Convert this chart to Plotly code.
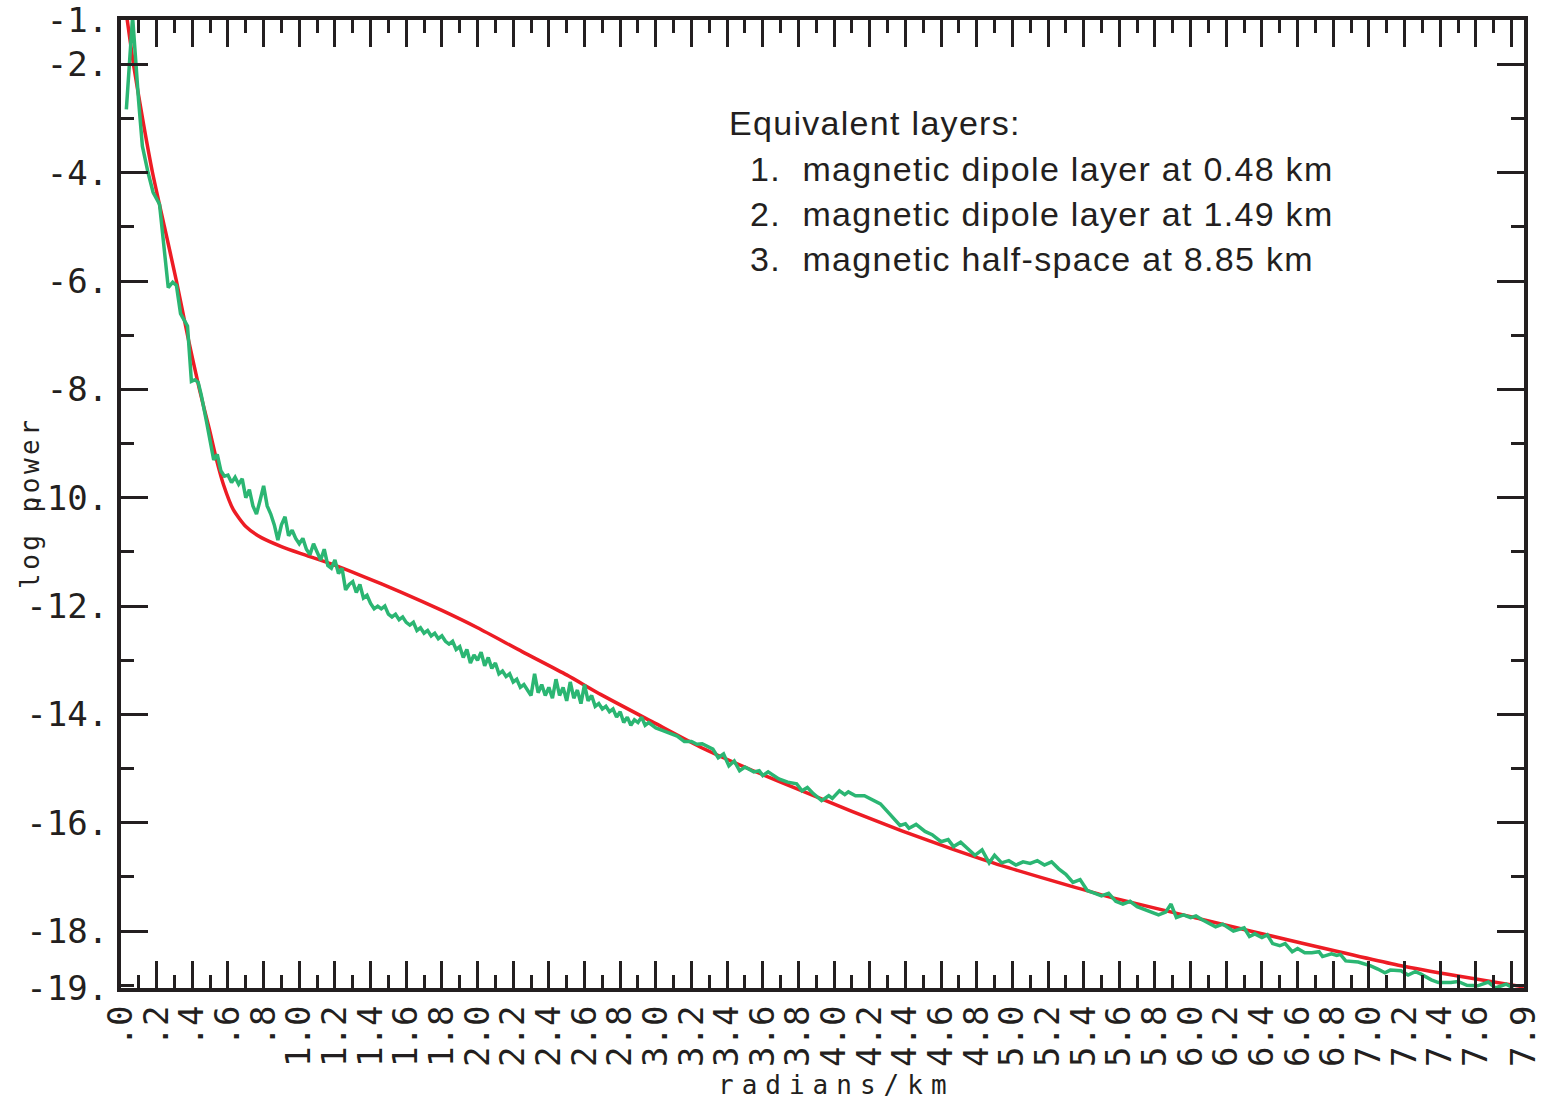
import plotly.graph_objects as go

# ---------------- data ----------------
x_model = [0.0, 0.035, 0.07, 0.121, 0.177, 0.244, 0.311, 0.373, 0.44, 0.496, 0.536, 0.575,
           0.63, 0.70, 0.79, 0.90, 1.01, 1.18, 1.35, 1.57, 1.80, 2.0, 2.25, 2.5, 2.69, 3.0,
           3.26, 3.54, 3.82, 4.1, 4.38, 4.66, 4.94, 5.5, 6.06, 6.62, 7.18, 7.5, 7.87]
y_model = [-0.45, -1.18, -2.0, -3.0, -4.0, -5.0, -6.0, -7.0, -8.0, -8.74, -9.3, -9.76,
           -10.22, -10.53, -10.74, -10.9, -11.03, -11.22, -11.44, -11.74, -12.08, -12.4, -12.84, -13.27, -13.63, -14.17,
           -14.62, -15.03, -15.41, -15.79, -16.15, -16.48, -16.79, -17.33, -17.78, -18.22, -18.64, -18.83, -19.03]

x_obs = [0.03, 0.065, 0.098, 0.12, 0.152, 0.18, 0.216, 0.237, 0.265, 0.29, 0.311, 0.334, 0.373, 0.395, 0.415, 0.433, 0.45,
         0.48, 0.50, 0.52, 0.54, 0.56, 0.58, 0.60, 0.62, 0.64, 0.66, 0.68, 0.70, 0.72, 0.74, 0.76, 0.78, 0.80,
         0.82, 0.84, 0.86, 0.88, 0.90, 0.92, 0.94, 0.96, 0.98, 1.00,
         1.02, 1.04, 1.06, 1.08, 1.10, 1.12, 1.14, 1.16, 1.18, 1.20, 1.22, 1.24, 1.26, 1.28, 1.30, 1.32, 1.34,
         1.36, 1.38, 1.40, 1.42, 1.44, 1.46, 1.48, 1.50, 1.52, 1.54, 1.56, 1.58, 1.60, 1.62, 1.64, 1.66, 1.68,
         1.70, 1.72, 1.74, 1.76, 1.78, 1.80, 1.82, 1.84, 1.86, 1.88, 1.90, 1.92, 1.94, 1.96, 1.98, 2.00,
         2.02, 2.04, 2.06, 2.08, 2.10, 2.12, 2.14, 2.16, 2.18, 2.20, 2.22, 2.24, 2.26, 2.28, 2.30, 2.32, 2.34,
         2.36, 2.38, 2.40, 2.42, 2.44, 2.46, 2.48, 2.50, 2.52, 2.54, 2.56, 2.58, 2.60, 2.62, 2.64, 2.66, 2.68,
         2.70, 2.72, 2.74, 2.76, 2.78, 2.80, 2.82, 2.84, 2.86, 2.88, 2.90, 2.92, 2.94, 2.96, 2.98, 3.00,
         3.04, 3.08, 3.12, 3.16, 3.20, 3.23,
         3.26, 3.32, 3.35, 3.38, 3.41, 3.44, 3.47, 3.50, 3.55, 3.58, 3.60, 3.63, 3.69, 3.74, 3.79, 3.82, 3.85,
         3.88, 3.93, 3.97, 3.99, 4.03, 4.06, 4.08, 4.12, 4.17, 4.22, 4.26, 4.31, 4.37, 4.40, 4.42, 4.46, 4.51,
         4.55, 4.60, 4.64, 4.67, 4.71, 4.75, 4.79, 4.83, 4.87, 4.90, 4.94,
         4.98, 5.02, 5.06, 5.10, 5.14, 5.18, 5.22, 5.26, 5.30, 5.34, 5.38, 5.42, 5.46, 5.50, 5.54, 5.58, 5.62,
         5.66, 5.70, 5.74, 5.78, 5.82, 5.86, 5.89, 5.92, 5.96, 6.00, 6.03, 6.06,
         6.14, 6.18, 6.24, 6.30, 6.33, 6.36, 6.40, 6.43, 6.46, 6.50, 6.53, 6.57, 6.60, 6.64, 6.68, 6.72, 6.74,
         6.79, 6.82, 6.84, 6.87, 6.94, 7.01, 7.05, 7.09, 7.12, 7.18, 7.22, 7.26, 7.29, 7.32, 7.35, 7.39, 7.46,
         7.50, 7.55, 7.61, 7.67, 7.71, 7.77, 7.81, 7.84, 7.87]
y_obs = [-2.83, -1.12, -2.64, -3.51, -4.0, -4.36, -4.58, -5.23, -6.12, -6.02, -6.08, -6.6, -6.83, -7.85, -7.82, -7.87, -8.1,
         -8.6, -8.95, -9.3, -9.2, -9.5, -9.6, -9.58, -9.72, -9.62, -9.75, -9.65, -10.0, -9.85, -10.15, -10.3, -10.05, -9.78,
         -10.15, -10.3, -10.5, -10.78, -10.5, -10.35, -10.7, -10.6, -10.75, -10.85,
         -10.75, -10.95, -11.05, -10.85, -11.0, -11.15, -10.95, -11.25, -11.3, -11.15, -11.4, -11.3, -11.7, -11.6, -11.55, -11.75, -11.6,
         -11.85, -11.8, -11.95, -12.05, -12.0, -12.05, -12.0, -12.15, -12.2, -12.15, -12.25, -12.2, -12.3, -12.35, -12.3, -12.45, -12.4,
         -12.5, -12.45, -12.55, -12.5, -12.6, -12.55, -12.65, -12.7, -12.65, -12.8, -12.75, -12.95, -12.8, -13.05, -12.9, -13.0,
         -12.85, -13.1, -12.95, -13.15, -13.05, -13.25, -13.2, -13.3, -13.25, -13.4, -13.35, -13.5, -13.45, -13.55, -13.65, -13.25, -13.6,
         -13.45, -13.65, -13.5, -13.7, -13.35, -13.65, -13.5, -13.75, -13.4, -13.7, -13.55, -13.8, -13.45, -13.75, -13.65, -13.85, -13.8,
         -13.9, -13.85, -13.95, -13.9, -14.05, -13.95, -14.15, -14.05, -14.2, -14.1, -14.15, -14.05, -14.2, -14.15, -14.2, -14.25,
         -14.3, -14.35, -14.4, -14.5, -14.5, -14.55,
         -14.54, -14.64, -14.8, -14.73, -14.95, -14.86, -15.04, -14.97, -15.06, -15.04, -15.13, -15.06, -15.19, -15.25, -15.28, -15.41, -15.35,
         -15.45, -15.59, -15.5, -15.55, -15.41, -15.48, -15.43, -15.5, -15.5, -15.58, -15.65, -15.83, -16.05, -16.02, -16.1, -16.03, -16.16,
         -16.22, -16.35, -16.31, -16.44, -16.36, -16.47, -16.6, -16.5, -16.74, -16.6, -16.74,
         -16.7, -16.78, -16.72, -16.75, -16.7, -16.78, -16.72, -16.85, -16.95, -17.1, -17.05, -17.25, -17.3, -17.35, -17.3, -17.45, -17.5,
         -17.45, -17.55, -17.6, -17.65, -17.7, -17.65, -17.5, -17.75, -17.7, -17.75, -17.72, -17.78,
         -17.92, -17.87, -18.0, -17.94, -18.1, -18.05, -18.12, -18.07, -18.23, -18.27, -18.23, -18.38, -18.32, -18.4, -18.4, -18.38, -18.47,
         -18.42, -18.45, -18.43, -18.55, -18.57, -18.64, -18.7, -18.77, -18.72, -18.73, -18.81, -18.75, -18.79, -18.85, -18.9, -18.95, -18.95,
         -18.93, -19.0, -19.01, -18.94, -19.05, -18.98, -19.05]

x_range = [0.0, 7.87]
y_range = [-19.05, -1.18]

x_tick_vals = [0.0, 0.2, 0.4, 0.6, 0.8, 1.0, 1.2, 1.4, 1.6, 1.8, 2.0, 2.2, 2.4, 2.6, 2.8, 3.0, 3.2, 3.4,
               3.6, 3.8, 4.0, 4.2, 4.4, 4.6, 4.8, 5.0, 5.2, 5.4, 5.6, 5.8, 6.0, 6.2, 6.4, 6.6, 6.8, 7.0,
               7.2, 7.4, 7.6, 7.8, 7.87]
x_tick_text = [".0", ".2", ".4", ".6", ".8", "1.0", "1.2", "1.4", "1.6", "1.8", "2.0", "2.2", "2.4", "2.6",
               "2.8", "3.0", "3.2", "3.4", "3.6", "3.8", "4.0", "4.2", "4.4", "4.6", "4.8", "5.0", "5.2",
               "5.4", "5.6", "5.8", "6.0", "6.2", "6.4", "6.6", "6.8", "7.0", "7.2", "7.4", "7.6", "", "7.9"]
x_minor_vals = [0.1, 0.3, 0.5, 0.7, 0.9, 1.1, 1.3, 1.5, 1.7, 1.9, 2.1, 2.3, 2.5, 2.7, 2.9, 3.1, 3.3, 3.5,
                3.7, 3.9, 4.1, 4.3, 4.5, 4.7, 4.9, 5.1, 5.3, 5.5, 5.7, 5.9, 6.1, 6.3, 6.5, 6.7, 6.9, 7.1,
                7.3, 7.5, 7.7]
y_tick_vals = [-19.05, -18, -16, -14, -12, -10, -8, -6, -4, -2, -1.18]
y_tick_text = ["-19.", "-18.", "-16.", "-14.", "-12.", "-10.", "-8.", "-6.", "-4.", "-2.", "-1."]
y_minor_vals = [-19, -17, -15, -13, -11, -9, -7, -5, -3]

legend_title = "Equivalent layers:"
legend_lines = ["1.\u00a0 magnetic dipole layer at 0.48 km",
                "2.\u00a0 magnetic dipole layer at 1.49 km",
                "3.\u00a0 magnetic half-space at 8.85 km"]

# ---------------- styling ----------------
INK = "#231f20"
RED = "#ed1c24"
GREEN = "#2bb673"
TICKFONT = dict(family="DejaVu Sans Mono", size=34, color=INK)

fig = go.Figure()
fig.add_trace(go.Scatter(x=x_model, y=y_model, mode="lines",
                         line=dict(color=RED, width=3.5, shape="spline", smoothing=0.6),
                         showlegend=False))
fig.add_trace(go.Scatter(x=x_obs, y=y_obs, mode="lines",
                         line=dict(color=GREEN, width=3.5), showlegend=False))

axis_common = dict(showline=True, linewidth=4, linecolor=INK, mirror="ticks",
                   ticks="inside", ticklen=27, tickwidth=3, tickcolor=INK,
                   showgrid=False, zeroline=False, tickfont=TICKFONT,
                   ticklabeloverflow="allow")

fig.update_xaxes(range=x_range, tickmode="array", tickvals=x_tick_vals, ticktext=x_tick_text,
                 tickangle=-90, ticklabelstandoff=0,
                 minor=dict(tickmode="array", tickvals=x_minor_vals, ticks="inside",
                            ticklen=13, tickwidth=3, tickcolor=INK),
                 **axis_common)
fig.update_yaxes(range=y_range, tickmode="array", tickvals=y_tick_vals, ticktext=y_tick_text,
                 ticklabelstandoff=2,
                 minor=dict(tickmode="array", tickvals=y_minor_vals, ticks="inside",
                            ticklen=13, tickwidth=3, tickcolor=INK),
                 **axis_common)

L, R, T, B = 121, 19, 20, 115
W, H = 1543, 1103
PW, PH = W - L - R, H - T - B


def px(xp):
    return (xp - L) / PW


def py(yp):
    return (H - B - yp) / PH


LEGFONT = dict(family="Liberation Sans", size=34, color=INK)
annotations = [
    dict(text='<span style="letter-spacing:8px">radians/km</span>', x=px(836), y=py(1085),
         xref="paper", yref="paper", showarrow=False, xanchor="center", yanchor="middle",
         font=dict(family="DejaVu Sans Mono", size=26, color=INK)),
    dict(text='<span style="letter-spacing:3.5px">log power</span>', x=px(30), y=py(503),
         xref="paper", yref="paper", showarrow=False, xanchor="center", yanchor="middle",
         textangle=-90, font=dict(family="DejaVu Sans Mono", size=26, color=INK)),
    dict(text='<span style="letter-spacing:1.3px">' + legend_title + '</span>', x=px(727), y=py(123),
         xref="paper", yref="paper", showarrow=False,
         xanchor="left", yanchor="middle", font=LEGFONT),
]
for i, line in enumerate(legend_lines):
    annotations.append(dict(text='<span style="letter-spacing:1.3px">' + line + '</span>',
                            x=px(748), y=py(169 + 45 * i), xref="paper", yref="paper",
                            showarrow=False, xanchor="left", yanchor="middle", font=LEGFONT))

fig.update_layout(width=W, height=H, margin=dict(l=L, r=R, t=T, b=B, autoexpand=False),
                  paper_bgcolor="white", plot_bgcolor="white", annotations=annotations,
                  showlegend=False)

fig.write_html("out.html")
